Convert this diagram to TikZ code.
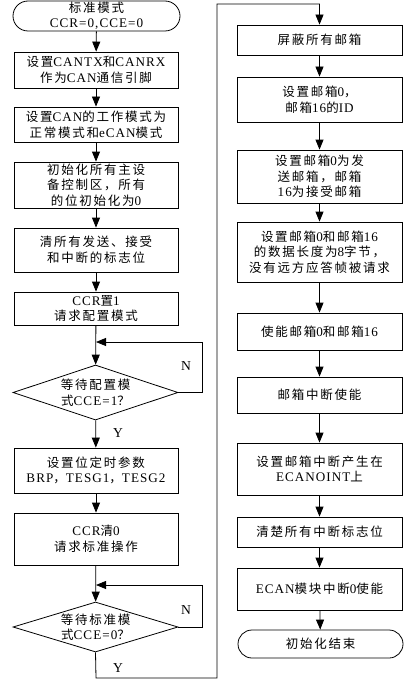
\documentclass[tikz,border=0pt]{standalone}
\usepackage{fontspec}
\setmainfont[LetterSpace=14]{Noto Sans CJK SC}
\newfontfamily\latf[LetterSpace=8,Scale=1.05]{Liberation Serif}
\newcommand\en[1]{{\latf #1}}
\usetikzlibrary{arrows.meta,shapes.geometric,shapes.misc}
\tikzset{
  every node/.style={font=\fontsize{12.5}{15.5}\selectfont},
  lbox/.style={draw, line width=0.8pt, rectangle, align=center, inner sep=0pt, minimum width=164pt},
  rbox/.style={draw, line width=0.8pt, rectangle, align=center, inner sep=0pt, minimum width=165pt},
  term/.style={draw, line width=0.8pt, rounded rectangle, align=center, inner sep=0pt},
  dec/.style={draw, line width=0.8pt, diamond, inner sep=0pt, minimum width=165pt},
  arr/.style={line width=0.8pt, -{Triangle[length=10pt,width=8pt]}},
  lnk/.style={line width=0.8pt},
  yn/.style={inner sep=0pt, font=\fontsize{13}{15}\selectfont\latf}
}
\begin{document}
\begin{tikzpicture}[x=1pt,y=-1pt]
\useasboundingbox (0,0) rectangle (415,682);
% left column
\node[term, minimum width=167pt, minimum height=30pt] (start) at (96.5,16) {标准模式\\\en{CCR=0,CCE=0}};
\node[lbox, minimum height=36pt] (b1) at (96,70) {设置\en{CANTX}和\en{CANRX}\\作为\en{CAN}通信引脚};
\node[lbox, minimum height=35pt] (b2) at (96,124.5) {设置\en{CAN}的工作模式为\\正常模式和\en{eCAN}模式};
\node[lbox, minimum height=46pt] (b3) at (96,185) {初始化所有主设\\备控制区，所有\\的位初始化为\en{0}};
\node[lbox, minimum height=44pt] (b4) at (96,250) {清所有发送、接受\\和中断的标志位};
\node[lbox, minimum height=33pt] (b5) at (96,308.5) {\en{CCR}置\en{1}\\请求配置模式};
\node[dec, minimum height=55pt, label={[align=center]center:等待配置模\\式\en{CCE=1}？}] (d1) at (95.5,392.5) {};
\node[lbox, minimum height=45pt] (b6) at (96,470.5) {设置位定时参数\\\en{BRP}，\en{TESG1}，\en{TESG2}};
\node[lbox, minimum height=52pt] (b7) at (96,539) {\en{CCR}清\en{0}\\请求标准操作};
\node[dec, minimum height=50pt, label={[align=center]center:等待标准模\\式\en{CCE=0}？}] (d2) at (95.5,627) {};
% right column
\node[rbox, minimum height=30pt] (r1) at (319.5,40) {屏蔽所有邮箱};
\node[rbox, minimum height=45pt] (r2) at (319.5,99.5) {设置邮箱\en{0}，\\邮箱\en{16}的\en{ID}};
\node[rbox, minimum height=53pt] (r3) at (319.5,176.5) {设置邮箱\en{0}为发\\送邮箱，邮箱\\\en{16}为接受邮箱};
\node[rbox, minimum height=60pt] (r4) at (319.5,252) {设置邮箱\en{0}和邮箱\en{16}\\的数据长度为\en{8}字节，\\没有远方应答帧被请求};
\node[rbox, minimum height=37pt] (r5) at (319.5,331.5) {使能邮箱\en{0}和邮箱\en{16}};
\node[rbox, minimum height=36pt] (r6) at (319.5,395) {邮箱中断使能};
\node[rbox, minimum height=52pt] (r7) at (319.5,469) {设置邮箱中断产生在\\\en{ECANOINT}上};
\node[rbox, minimum height=30pt] (r8) at (319.5,532) {清楚所有中断标志位};
\node[rbox, minimum height=42pt] (r9) at (319.5,589) {\en{ECAN}模块中断\en{0}使能};
\node[term, minimum width=165pt, minimum height=28pt] (end) at (320.5,644) {初始化结束};
% labels
\node[yn] (y1) at (118,433) {Y};
\node[yn] (y2) at (118,668) {Y};
\node[yn] (n1) at (186,366) {N};
\node[yn] (n2) at (186,610) {N};
% coordinates
\coordinate (j1) at (96,342);
\coordinate (c1) at (202,342);
\coordinate (j2) at (96,585);
\coordinate (c2) at (202,585);
\coordinate (k1) at (96,678);
\coordinate (k2) at (217,678);
\coordinate (k3) at (217,4);
% connectors
\draw[arr] (start) -- (b1);
\draw[arr] (b1) -- (b2);
\draw[arr] (b2) -- (b3);
\draw[arr] (b3) -- (b4);
\draw[arr] (b4) -- (b5);
\draw[arr] (b5) -- (d1);
\draw[arr] (d1.east) -| (c1) -- (j1);
\draw[arr] (d1) -- (b6);
\draw[arr] (b6) -- (b7);
\draw[arr] (b7) -- (d2);
\draw[arr] (d2.east) -| (c2) -- (j2);
\draw[arr] (d2.south) -- (k1) -- (k2) -- (k3) -| (r1.north);
\draw[arr] (r1) -- (r2);
\draw[arr] (r2) -- (r3);
\draw[arr] (r3) -- (r4);
\draw[arr] (r4) -- (r5);
\draw[arr] (r5) -- (r6);
\draw[arr] (r6) -- (r7);
\draw[arr] (r7) -- (r8);
\draw[arr] (r8) -- (r9);
\draw[arr] (r9) -- (end);
\end{tikzpicture}
\end{document}
